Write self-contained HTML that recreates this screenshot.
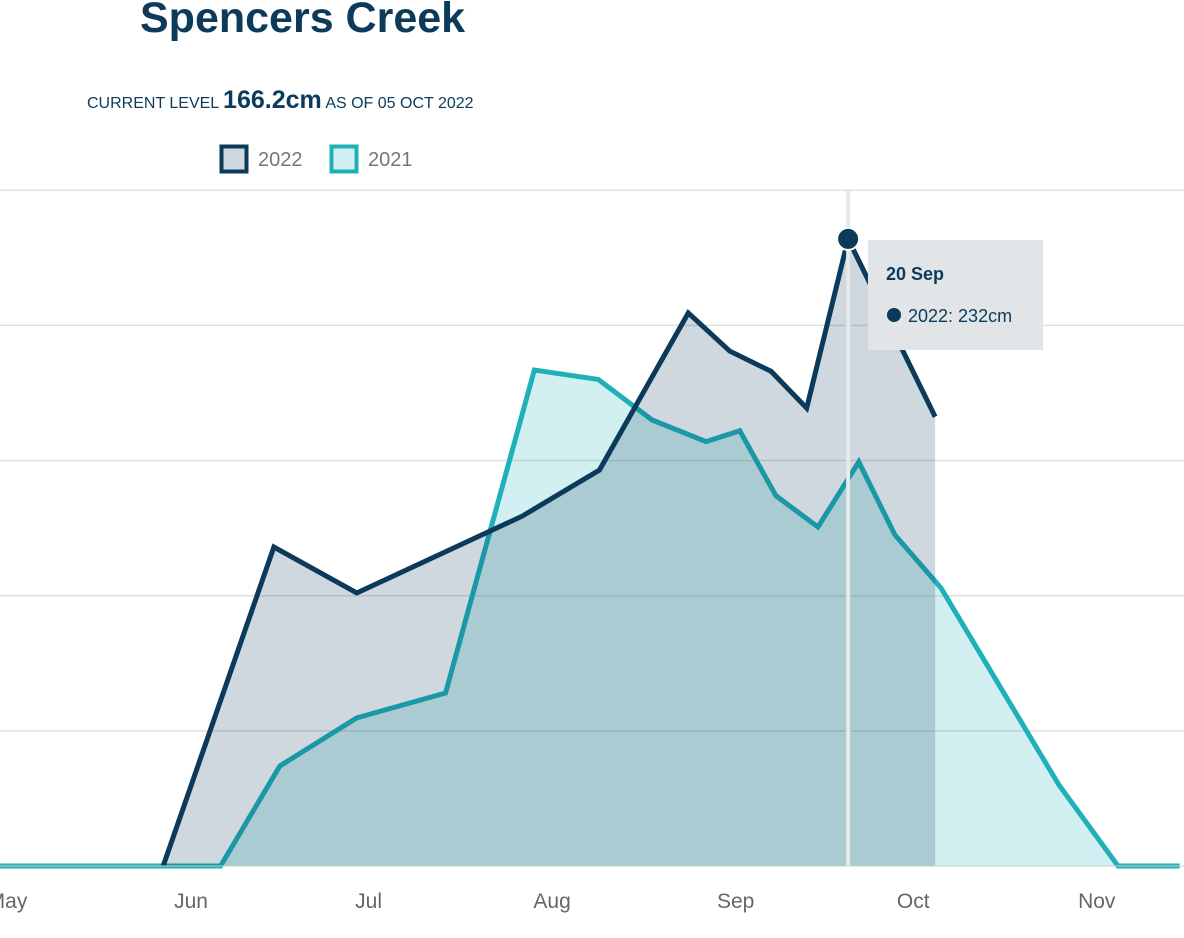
<!DOCTYPE html>
<html><head><meta charset="utf-8"><style>
body{margin:0;width:1184px;height:938px;overflow:hidden;background:#fff;font-family:"Liberation Sans",sans-serif;}
.title{position:absolute;left:140px;top:-6px;font-size:43px;font-weight:bold;color:#0b3a5a;margin:0;}
.cur{position:absolute;left:87px;top:86px;color:#0b3a5a;font-size:16px;white-space:nowrap;}
.cur b{font-size:25px;font-weight:bold;}
</style></head><body>
<h1 class="title">Spencers Creek</h1>
<div class="cur">CURRENT LEVEL <b>166.2cm</b> AS OF 05 OCT 2022</div>
<svg id="chart" width="1184" height="938" style="position:absolute;left:0;top:0"></svg>
<script>
const months=["May","Jun","Jul","Aug","Sep","Oct","Nov"];
const monthDays=[-31,0,30,61,92,122,153];
const gridValues=[50,100,150,200,250];
const days2022=[-4.7,14,28,56,69,84,91,98,104,111,125.7];
const vals2022=[0,118,101,129.5,146.5,204.6,190.5,183,169.4,232,166.2];
const days2021=[-40,5,15,28,43,58,68.8,77.9,87,92.7,98.8,105.9,112.8,118.9,126.7,146.6,156.6,167];
const vals2021=[0,0,37,54.8,64,183.5,180,165,157,161,137,125.4,149.5,122.5,102.8,30,0,0];
const hoverDay=111, hoverLabel="20 Sep", hoverValue=232;
const NS="http://www.w3.org/2000/svg";
const svg=document.getElementById('chart');
const X=d=>191+d*5.92, Y=v=>866-v*2.703;
function mk(t,a){const e=document.createElementNS(NS,t);for(const k in a)e.setAttribute(k,a[k]);svg.appendChild(e);return e;}
gridValues.forEach(v=>{const l=mk('line',{x1:0,x2:1184,y1:Y(v),y2:Y(v),stroke:'#e0e0e0','stroke-width':1.5});

});
months.forEach((m,i)=>{const t=mk('text',{x:X(monthDays[i]),y:908,'text-anchor':'middle','font-size':21,fill:'#666'});t.textContent=m;

});
function series(days,vals,stroke,fill,name){
 const pts=days.map((d,i)=>X(d)+','+Y(vals[i]));
 const a=mk('polygon',{points:pts.join(' ')+' '+X(days[days.length-1])+','+Y(0)+' '+X(days[0])+','+Y(0),fill:fill});
 
 
 const l=mk('polyline',{points:pts.join(' '),fill:'none',stroke:stroke,'stroke-width':5,'stroke-linejoin':'miter'});
 
 
}
series(days2021,vals2021,'#1fb0b8','rgba(31,176,184,0.2)','2021');
series(days2022,vals2022,'#0b3a5a','rgba(11,58,90,0.2)','2022');
const bl=mk('line',{x1:0,x2:1184,y1:866,y2:866,stroke:'#ccc','stroke-width':1});


const cross=mk('line',{x1:X(hoverDay),x2:X(hoverDay),y1:191,y2:866,stroke:'#e8e8e8','stroke-width':4});


const dot=mk('circle',{cx:X(hoverDay),cy:Y(hoverValue),r:11,fill:'#0b3a5a',stroke:'#fff','stroke-width':2});


const tb=mk('rect',{x:868,y:240,width:175,height:110,fill:'#e1e5e8'});


const tt=mk('text',{x:886,y:280,'font-size':18,'font-weight':'bold',fill:'#0b3a5a'});tt.textContent=hoverLabel;


const td=mk('circle',{cx:894,cy:315,r:7,fill:'#0b3a5a'});


const tv=mk('text',{x:908,y:322,'font-size':18,fill:'#0b3a5a'});tv.textContent='2022: '+hoverValue+'cm';


[['2022','#0b3a5a','rgba(11,58,90,0.2)',220,258],['2021','#1fb0b8','rgba(31,176,184,0.2)',330,368]].forEach(([n,s,f,x,tx])=>{
 const r=mk('rect',{x:x+1.5,y:146.5,width:25,height:25,fill:f,stroke:s,'stroke-width':4});
 
 
 const t=mk('text',{x:tx,y:166,'font-size':20,fill:'#777'});t.textContent=n;
 
 
});
</script>
</body></html>
